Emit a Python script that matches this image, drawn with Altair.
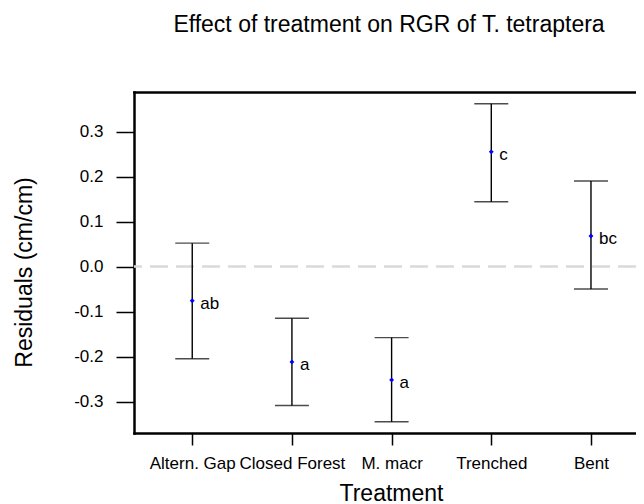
import altair as alt
import pandas as pd

# ---- data ----
categories = ["Altern. Gap", "Closed Forest", "M. macr", "Trenched", "Bent"]
means = [-0.076, -0.212, -0.252, 0.255, 0.068]
lower = [-0.205, -0.309, -0.345, 0.144, -0.050]
upper = [0.052, -0.115, -0.158, 0.362, 0.190]
letters = ["ab", "a", "a", "c", "bc"]
y_ticks = [-0.3, -0.2, -0.1, 0.0, 0.1, 0.2, 0.3]
y_domain = [-0.37, 0.388]

df = pd.DataFrame({
    "Treatment": categories,
    "mean": means,
    "lower": lower,
    "upper": upper,
    "letter": letters,
})

FONT = "Liberation Sans"
xscale = alt.Scale(type="point", domain=categories, padding=0.518, align=0.564)
yscale = alt.Scale(domain=y_domain, nice=False, zero=False)

x_bottom = alt.Axis(
    orient="bottom", title="Treatment", labelAngle=0, grid=False,
    domainColor="black", domainWidth=2.5, domainCap="square",
    tickColor="black", tickWidth=1.5, tickSize=12,
    labelFontSize=17, labelColor="black", labelPadding=10, labelFont=FONT,
    titleFontSize=23, titleFontWeight="normal", titleColor="black", titleFont=FONT,
    titleBaseline="alphabetic", titleY=67, titleX=257,
)
x_top = alt.Axis(
    orient="top", title=None, labels=False, ticks=False, grid=False,
    domainColor="black", domainWidth=2.5, domainCap="square",
)
y_left = alt.Axis(
    orient="left", title="Residuals (cm/cm)", values=y_ticks, grid=False,
    labelExpr="datum.value < 0 ? '-' + format(-datum.value, '.1f') : format(datum.value, '.1f')",
    domainColor="black", domainWidth=2.5, domainCap="square",
    tickColor="black", tickWidth=1.5, tickSize=18,
    labelFontSize=17, labelColor="black", labelPadding=13, labelFont=FONT,
    titleFontSize=23, titleFontWeight="normal", titleColor="black", titleFont=FONT,
    titleBaseline="alphabetic", titleAngle=270, titleX=-103, titleY=180,
)

base = alt.Chart(df)

zero = base.mark_rule(color="#d9d9d9", strokeDash=[18, 8], strokeWidth=1.6).encode(
    y=alt.Y(datum=0, type="quantitative", scale=yscale, axis=y_left)
)

bars = base.mark_rule(color="black", strokeWidth=1.4).encode(
    x=alt.X("Treatment:N", scale=xscale, axis=x_bottom),
    y=alt.Y("lower:Q", scale=yscale, axis=y_left),
    y2="upper:Q",
)

caps_hi = base.mark_tick(color="black", size=34, thickness=1.4, orient="horizontal").encode(
    x=alt.X("Treatment:N", scale=xscale, axis=None),
    y=alt.Y("upper:Q", scale=yscale, axis=y_left),
)
caps_lo = base.mark_tick(color="black", size=34, thickness=1.4, orient="horizontal").encode(
    x=alt.X("Treatment:N", scale=xscale, axis=None),
    y=alt.Y("lower:Q", scale=yscale, axis=y_left),
)

pts = base.mark_point(shape="diamond", filled=True, size=24, color="#0000ff", opacity=1).encode(
    x=alt.X("Treatment:N", scale=xscale, axis=x_top),
    y=alt.Y("mean:Q", scale=yscale, axis=y_left),
)

txt = base.mark_text(align="left", baseline="alphabetic", dx=8, dy=8, fontSize=17,
                     color="black", font=FONT).encode(
    x=alt.X("Treatment:N", scale=xscale, axis=None),
    y=alt.Y("mean:Q", scale=yscale, axis=y_left),
    text="letter:N",
)

chart = alt.layer(zero, bars, caps_hi, caps_lo, pts, txt).resolve_axis(
    x="independent", y="shared"
).properties(
    width=502,
    height=341,
    autosize=alt.AutoSizeParams(type="none"),
    padding={"left": 126, "top": 84, "right": 0, "bottom": 71},
    title=alt.Title(
        "Effect of treatment on RGR of T. tetraptera",
        fontSize=23, fontWeight="normal", font=FONT, color="black",
        anchor="middle", baseline="alphabetic", offset=37, dx=4,
    ),
).configure_view(strokeWidth=0).configure(font=FONT)

chart.save("out.html", embed_options={"renderer": "svg", "actions": False})
